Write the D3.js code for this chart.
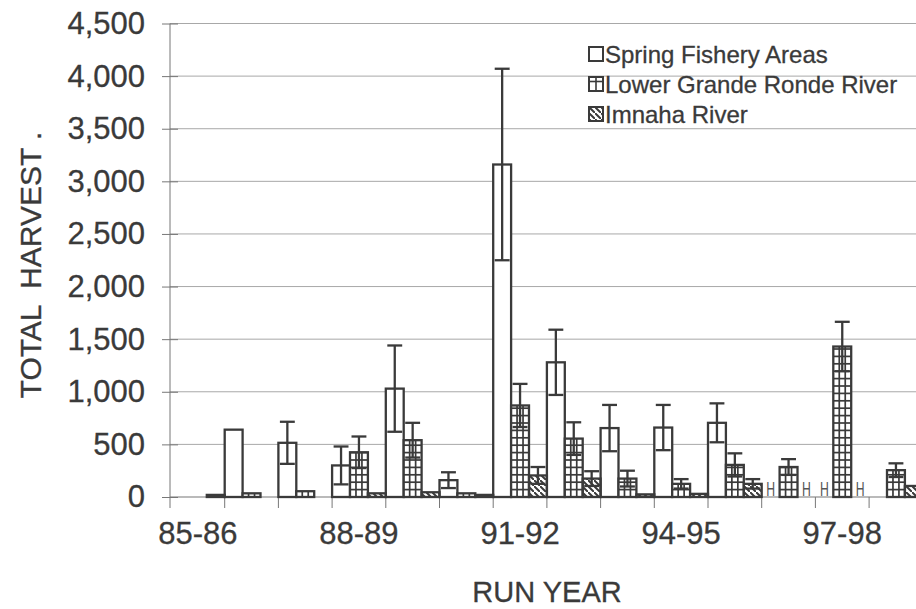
<!DOCTYPE html>
<html>
<head>
<meta charset="utf-8">
<script src="https://d3js.org/d3.v7.min.js"></script>
<style>
  body { margin: 0; background: #fff; }
  svg { display: block; font-family: "Liberation Sans", Arial, sans-serif; }
  .lbl { fill: #3a3a3a; stroke: #3a3a3a; stroke-width: 0.3px; }
</style>
</head>
<body>
<svg width="916" height="609"></svg>
<script>
// run years (one band each)
const years = ["85-86","86-87","87-88","88-89","89-90","90-91","91-92",
               "92-93","93-94","94-95","95-96","96-97","97-98","98-99"];
const shownYears = ["85-86","88-89","91-92","94-95","97-98"];
const series = ["Spring Fishery Areas", "Lower Grande Ronde River", "Imnaha River"];

// harvest estimates, null = no bar
const spring    = [0, 640, 515, 300, 1030, 160, 3160, 1280, 655, 660, 705, null, null, null];
const springErr = [null, null, 200, 180, 410, 75, 910, 310, 220, 215, 185, null, null, null];
const lgr       = [null, 35, 55, 425, 540, 35, 870, 555, 175, 125, 305, 285, 1430, 255];
const lgrErr    = [null, null, null, 150, 165, null, 205, 155, 75, 45, 110, 75, 235, 65];
const imnaha    = [20, null, null, 35, 45, 20, 205, 175, 25, 30, 125, null, null, 105];
const imnahaErr = [null, null, null, null, null, null, 80, 70, null, null, 45, null, null, null];

// cells marked "H" instead of a bar
const hMarks = [["96-97", 0], ["96-97", 2], ["97-98", 0], ["97-98", 2]];

const yTicks = [0, 500, 1000, 1500, 2000, 2500, 3000, 3500, 4000, 4500];

const svg = d3.select("svg");
const ink = "#3a3a3a";

const x = d3.scaleBand().domain(years).range([171, 171 + 14 * 53.7]);
const xs = d3.scaleBand().domain([0, 1, 2]).range([0, x.bandwidth()]);
const y = d3.scaleLinear().domain([0, 4500]).range([497, 23.5]);

// patterns
const defs = svg.append("defs");
const hatch = defs.append("pattern")
  .attr("id", "hatch").attr("patternUnits", "userSpaceOnUse")
  .attr("width", 6).attr("height", 6);
hatch.append("path")
  .attr("d", "M-1.5,-1.5 L1.5,1.5 M0,0 L6,6 M4.5,4.5 L7.5,7.5")
  .attr("stroke", ink).attr("stroke-width", 2);

// gridlines
svg.append("g").selectAll("line").data(yTicks.slice(1)).join("line")
  .attr("x1", 170).attr("x2", 916)
  .attr("y1", d => y(d)).attr("y2", d => y(d))
  .attr("stroke", "#a8a8a8").attr("stroke-width", 1);

// y axis
const yAxis = svg.append("g").attr("transform", "translate(170,0)")
  .call(d3.axisLeft(y).tickValues(yTicks).tickFormat(d3.format(",")).tickSize(8).tickPadding(17));
yAxis.select(".domain").attr("stroke", "#777").attr("d", `M0,${y(4500)}V${y(0) + 11}`);
yAxis.selectAll(".tick line").attr("stroke", "#777").attr("x1", 8).attr("x2", -8);
yAxis.selectAll(".tick text").attr("class", "lbl").attr("font-size", 31)
  .attr("font-family", "Liberation Sans, Arial, sans-serif");

// x axis: ticks at band edges
svg.append("line").attr("x1", 170).attr("x2", 916).attr("y1", y(0)).attr("y2", y(0))
  .attr("stroke", "#777").attr("stroke-width", 1.2);
svg.append("g").selectAll("line").data(years.slice(1)).join("line")
  .attr("x1", d => x(d)).attr("x2", d => x(d))
  .attr("y1", y(0)).attr("y2", y(0) + 11)
  .attr("stroke", "#777");
svg.append("g").selectAll("text").data(shownYears).join("text")
  .attr("class", "lbl")
  .attr("x", d => x(d) + x.bandwidth() / 2).attr("y", 544)
  .attr("text-anchor", "middle").attr("font-size", 31)
  .text(d => d);

// bars
const vals = [spring, lgr, imnaha];
const errs = [springErr, lgrErr, imnahaErr];
const bars = [];
series.forEach((s, si) => {
  years.forEach((yr, i) => {
    if (vals[si][i] !== null) bars.push({ yr, si, v: vals[si][i], e: errs[si][i] });
  });
});

const barG = svg.append("g");
bars.forEach(b => {
  const bx = x(b.yr) + xs(b.si), bw = xs.bandwidth();
  const top = y(b.v), bottom = y(0);
  const g = barG.append("g");
  g.append("rect").attr("x", bx).attr("y", top).attr("width", bw).attr("height", bottom - top)
    .attr("fill", b.si === 2 ? "url(#hatch)" : "#fff");
  if (b.si === 1) {
    // check grid
    [1, 2].forEach(k => g.append("line")
      .attr("x1", bx + bw * k / 3).attr("x2", bx + bw * k / 3)
      .attr("y1", top).attr("y2", bottom)
      .attr("stroke", ink).attr("stroke-width", 1.7));
    d3.range(bottom - 7.4, top, -7.4).forEach(yy => g.append("line")
      .attr("x1", bx).attr("x2", bx + bw).attr("y1", yy).attr("y2", yy)
      .attr("stroke", ink).attr("stroke-width", 1.7));
  }
  g.append("rect").attr("x", bx).attr("y", top).attr("width", bw).attr("height", bottom - top)
    .attr("fill", "none").attr("stroke", ink).attr("stroke-width", 2.3);
  if (b.e) {
    const cx = bx + bw / 2, hw = bw / 2 - 1.5;
    const eg = g.append("g").attr("stroke", ink).attr("stroke-width", 2.3);
    eg.append("line").attr("x1", cx).attr("x2", cx).attr("y1", y(b.v + b.e)).attr("y2", y(b.v - b.e));
    [b.v + b.e, b.v - b.e].forEach(v => eg.append("line")
      .attr("x1", cx - hw).attr("x2", cx + hw).attr("y1", y(v)).attr("y2", y(v)));
  }
});

// "H" marks
svg.append("g").selectAll("text").data(hMarks).join("text")
  .attr("transform", d => `translate(${x(d[0]) + xs(d[1]) + xs.bandwidth() / 2},${y(0) - 1}) scale(0.72,1.15)`)
  .attr("text-anchor", "middle").attr("font-size", 17).attr("fill", "#555")
  .text("H");

// axis titles
svg.append("text").attr("class", "lbl")
  .attr("x", 547).attr("y", 602).attr("text-anchor", "middle").attr("font-size", 29)
  .text("RUN YEAR");
svg.append("text").attr("class", "lbl")
  .attr("transform", "translate(41,265) rotate(-90)")
  .attr("text-anchor", "middle").attr("font-size", 30)
  .style("white-space", "pre")
  .text("TOTAL  HARVEST .");

// legend
const leg = svg.append("g").attr("transform", "translate(589,47)");
const row = leg.selectAll("g").data(series).join("g")
  .attr("transform", (d, i) => `translate(0,${i * 30})`);
row.append("rect").attr("width", 14).attr("height", 14)
  .attr("fill", (d, i) => i === 2 ? "url(#hatch)" : "#fff");
row.filter((d, i) => i === 1).each(function () {
  const r = d3.select(this);
  r.append("line").attr("x1", 7).attr("x2", 7).attr("y1", 0).attr("y2", 14).attr("stroke", ink).attr("stroke-width", 1.6);
  r.append("line").attr("x1", 0).attr("x2", 14).attr("y1", 4.5).attr("y2", 4.5).attr("stroke", ink).attr("stroke-width", 1.6);
});
row.append("rect").attr("width", 14).attr("height", 14)
  .attr("fill", "none").attr("stroke", ink).attr("stroke-width", 2);
row.append("text").attr("class", "lbl")
  .attr("x", 16).attr("y", 7).attr("dy", "0.36em").attr("font-size", 24)
  .text(d => d);
</script>
</body>
</html>
